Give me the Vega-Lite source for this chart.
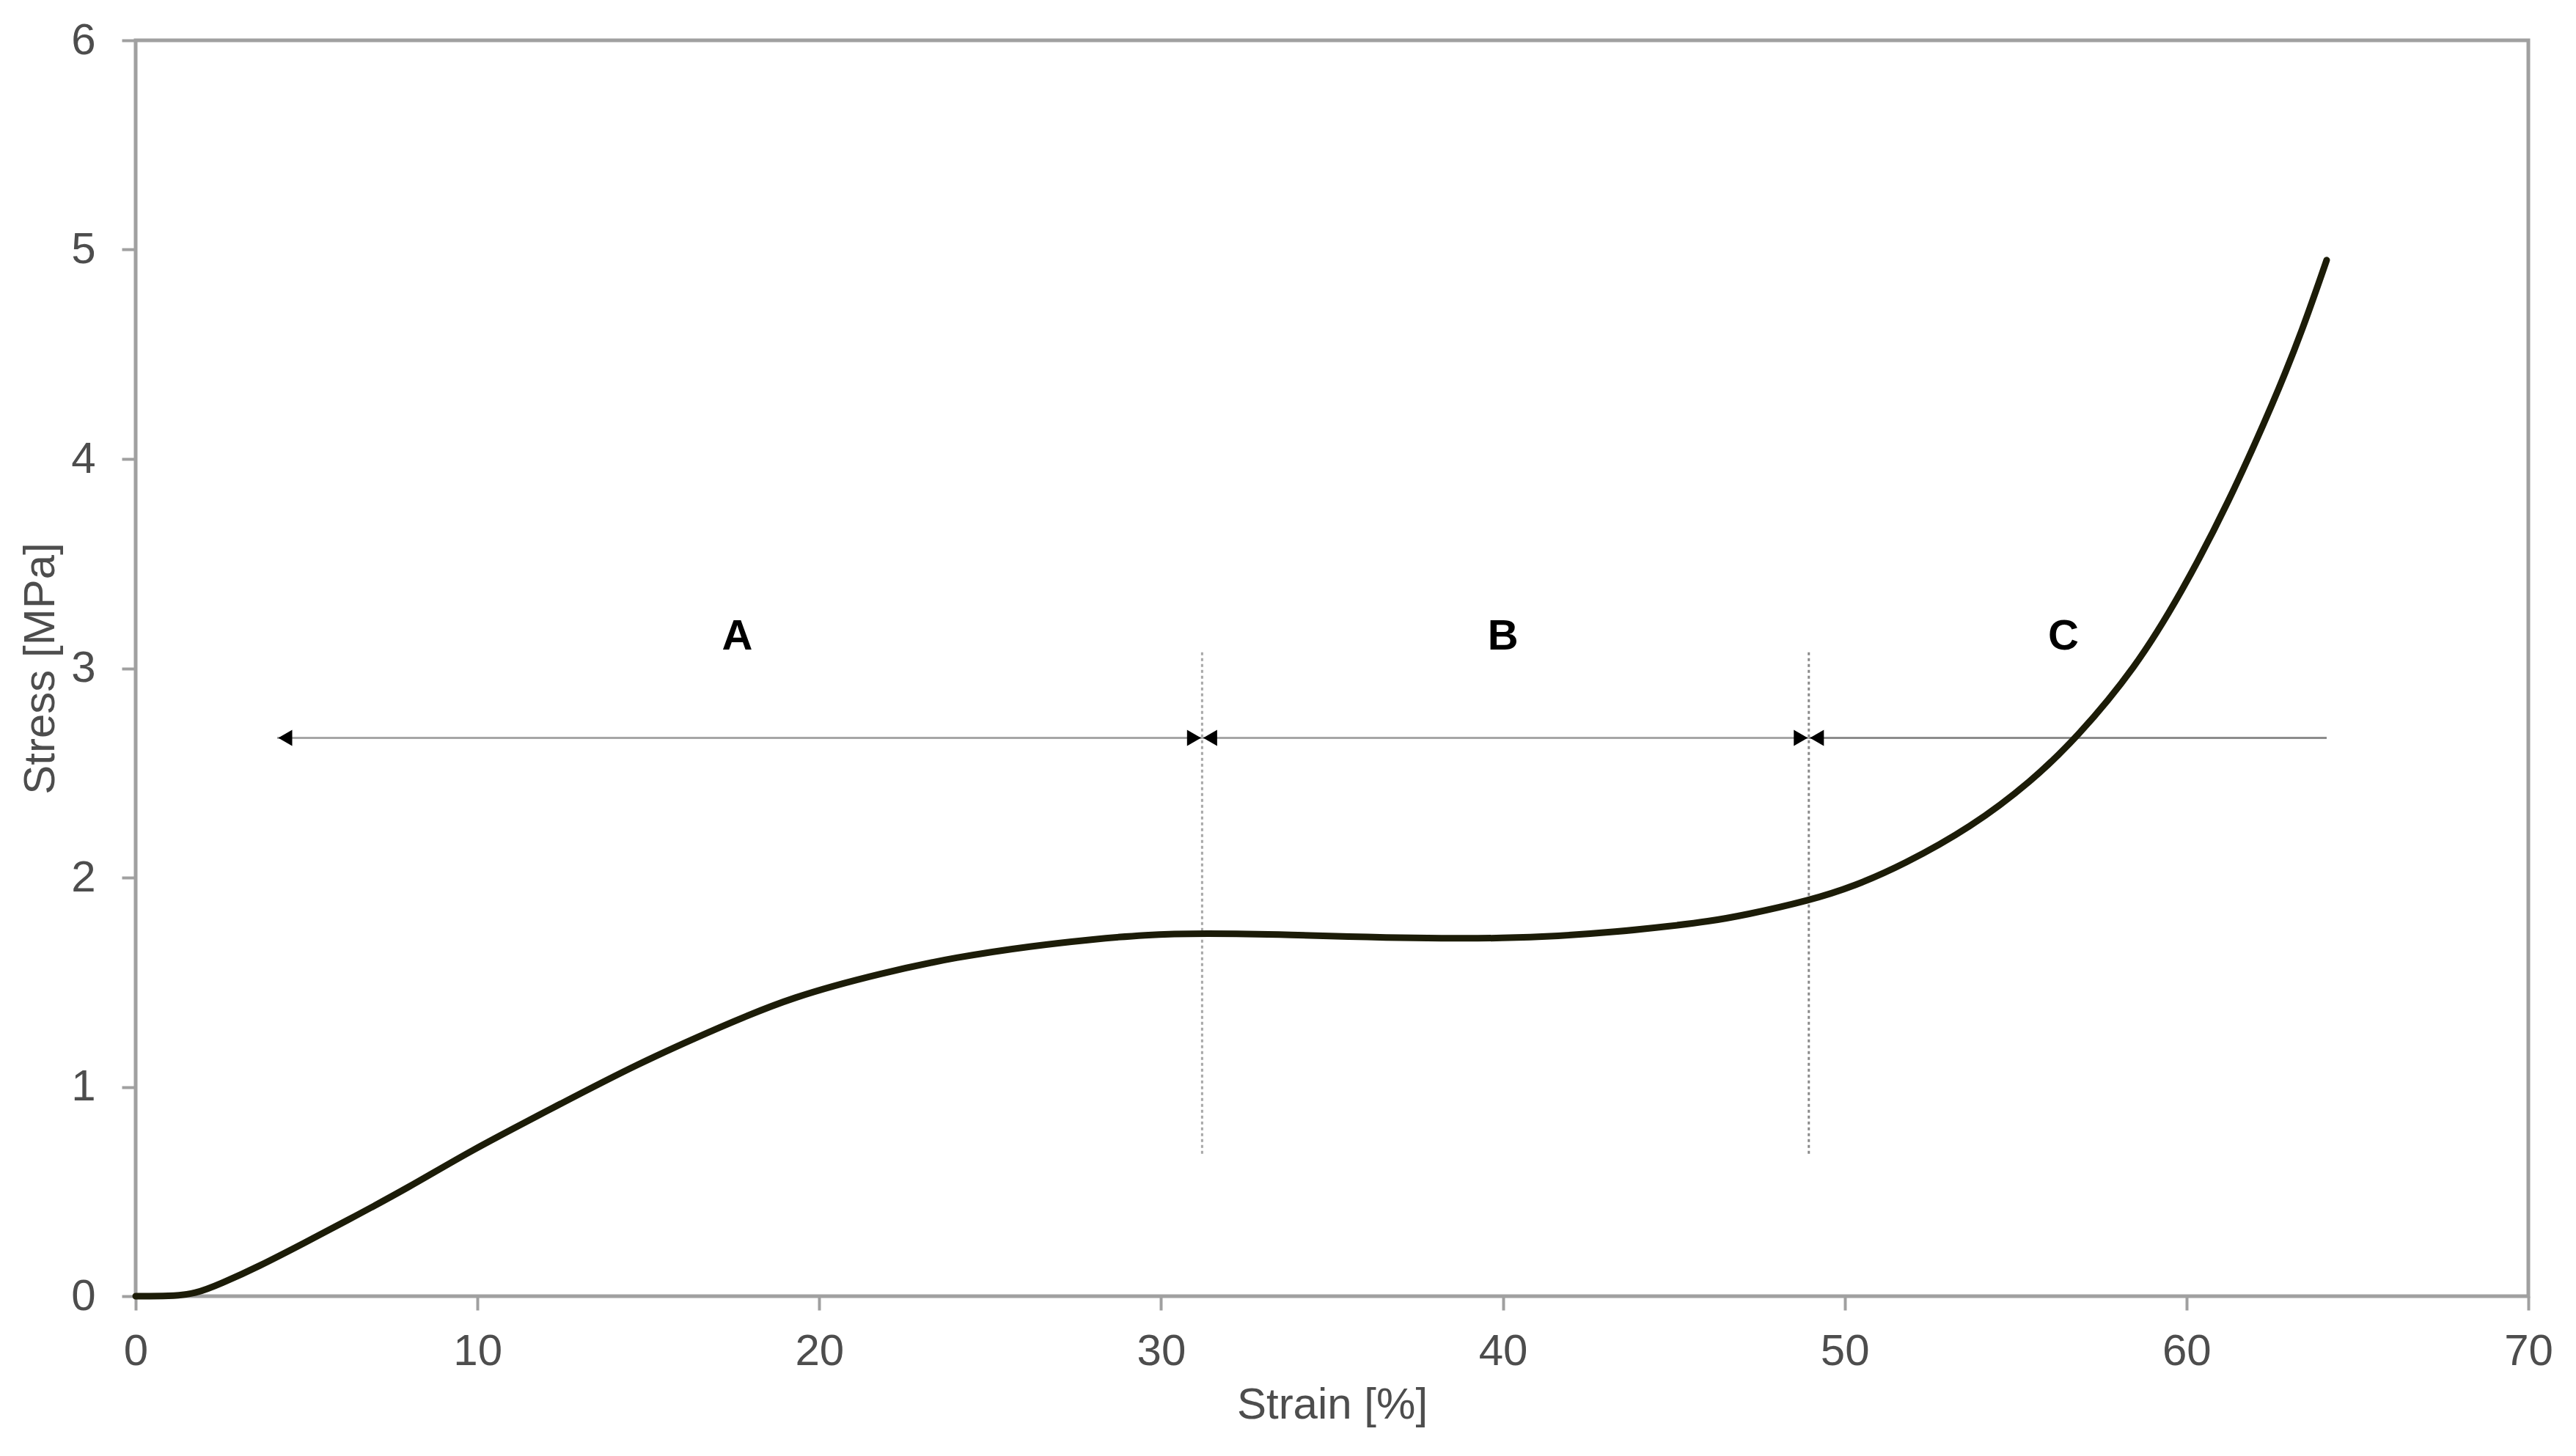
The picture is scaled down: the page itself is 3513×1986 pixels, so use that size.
{
  "$schema": "https://vega.github.io/schema/vega-lite/v6.json",
  "width": 3263,
  "height": 1713,
  "autosize": {"type": "none"},
  "padding": {"left": 185, "top": 55, "right": 65, "bottom": 218},
  "background": "white",
  "config": {
    "view": {"stroke": "#a0a0a0", "strokeWidth": 5},
    "font": "Liberation Sans",
    "axis": {
      "domain": false,
      "grid": false,
      "labelFlush": false,
      "labelOverlap": false,
      "tickColor": "#a0a0a0",
      "tickWidth": 4,
      "tickSize": 19,
      "labelFont": "Liberation Sans",
      "labelFontSize": 60,
      "labelColor": "#4d4d4d",
      "titleFont": "Liberation Sans",
      "titleFontSize": 60,
      "titleFontWeight": "normal",
      "titleColor": "#4d4d4d"
    }
  },
  "datasets": {
    "curve": [
      {"strain": 0, "stress": 0},
      {"strain": 1.0, "stress": 0},
      {"strain": 1.74, "stress": 0.01},
      {"strain": 2.5, "stress": 0.06},
      {"strain": 3.58, "stress": 0.14},
      {"strain": 5, "stress": 0.26},
      {"strain": 6.05, "stress": 0.35},
      {"strain": 8, "stress": 0.52},
      {"strain": 9.74, "stress": 0.69},
      {"strain": 12.21, "stress": 0.9},
      {"strain": 14.68, "stress": 1.11},
      {"strain": 17.15, "stress": 1.29},
      {"strain": 19.2, "stress": 1.43},
      {"strain": 21.87, "stress": 1.546},
      {"strain": 24, "stress": 1.62},
      {"strain": 26.24, "stress": 1.674},
      {"strain": 28, "stress": 1.705},
      {"strain": 29.5, "stress": 1.727},
      {"strain": 31.2, "stress": 1.734},
      {"strain": 33.9, "stress": 1.727},
      {"strain": 36, "stress": 1.715},
      {"strain": 38.3, "stress": 1.709},
      {"strain": 40, "stress": 1.71},
      {"strain": 41.6, "stress": 1.72},
      {"strain": 43.3, "stress": 1.74},
      {"strain": 44.9, "stress": 1.768},
      {"strain": 46, "stress": 1.79},
      {"strain": 47.06, "stress": 1.82},
      {"strain": 48.97, "stress": 1.89},
      {"strain": 50.3, "stress": 1.96},
      {"strain": 51.7, "stress": 2.06},
      {"strain": 53.7, "stress": 2.24},
      {"strain": 55.47, "stress": 2.46},
      {"strain": 56.8, "stress": 2.67},
      {"strain": 58.5, "stress": 3.0},
      {"strain": 59.85, "stress": 3.36},
      {"strain": 61.2, "stress": 3.78},
      {"strain": 62.6, "stress": 4.29},
      {"strain": 63.4, "stress": 4.62},
      {"strain": 64.1, "stress": 4.95}
    ],
    "spans": [
      {"seg": "A", "x1": 4.14, "x2": 31.2, "y": 2.667},
      {"seg": "B", "x1": 31.2, "x2": 48.95, "y": 2.667},
      {"seg": "C", "x1": 48.95, "x2": 64.1, "y": 2.667}
    ],
    "heads": [
      {"x": 4.14, "y": 2.667, "dir": "left"},
      {"x": 31.2, "y": 2.667, "dir": "right"},
      {"x": 31.2, "y": 2.667, "dir": "left"},
      {"x": 48.95, "y": 2.667, "dir": "right"},
      {"x": 48.95, "y": 2.667, "dir": "left"}
    ],
    "dividers": [
      {"x": 31.2, "y1": 0.68, "y2": 3.08, "name": "AB"},
      {"x": 48.95, "y1": 0.68, "y2": 3.08, "name": "BC"}
    ],
    "labels": [
      {"x": 17.6, "y": 3.15, "text": "A"},
      {"x": 40.0, "y": 3.15, "text": "B"},
      {"x": 56.4, "y": 3.15, "text": "C"}
    ]
  },
  "layer": [
    {
      "data": {"name": "dividers"},
      "mark": {"type": "rule", "strokeWidth": 3, "strokeDash": [4, 4]},
      "encoding": {
        "x": {"field": "x", "type": "quantitative", "scale": {"domain": [0, 70], "nice": false}},
        "y": {"field": "y1", "type": "quantitative", "scale": {"domain": [0, 6], "nice": false}},
        "y2": {"field": "y2"},
        "color": {"field": "name", "type": "nominal", "scale": {"domain": ["AB", "BC"], "range": ["#a8a8a8", "#8a8a8a"]}, "legend": null}
      }
    },
    {
      "data": {"name": "spans"},
      "mark": {"type": "rule", "strokeWidth": 3},
      "encoding": {
        "x": {"field": "x1", "type": "quantitative"},
        "x2": {"field": "x2"},
        "y": {"field": "y", "type": "quantitative"},
        "stroke": {"field": "seg", "type": "nominal", "scale": {"domain": ["A", "B", "C"], "range": ["#a6a6a6", "#a6a6a6", "#8c8c8c"]}, "legend": null}
      }
    },
    {
      "data": {"name": "heads"},
      "transform": [{"filter": "datum.dir === 'right'"}],
      "mark": {"type": "point", "shape": "triangle-right", "filled": true, "color": "black", "size": 484, "opacity": 1, "xOffset": -11},
      "encoding": {
        "x": {"field": "x", "type": "quantitative"},
        "y": {"field": "y", "type": "quantitative"}
      }
    },
    {
      "data": {"name": "heads"},
      "transform": [{"filter": "datum.dir === 'left'"}],
      "mark": {"type": "point", "shape": "triangle-left", "filled": true, "color": "black", "size": 484, "opacity": 1, "xOffset": 11},
      "encoding": {
        "x": {"field": "x", "type": "quantitative"},
        "y": {"field": "y", "type": "quantitative"}
      }
    },
    {
      "data": {"name": "curve"},
      "mark": {"type": "line", "color": "#1c1c08", "strokeWidth": 9, "interpolate": "basis", "strokeCap": "round"},
      "encoding": {
        "x": {
          "field": "strain", "type": "quantitative",
          "scale": {"domain": [0, 70], "nice": false},
          "axis": {"title": "Strain [%]", "values": [0, 10, 20, 30, 40, 50, 60, 70], "format": "d", "labelPadding": 27, "titlePadding": 14}
        },
        "y": {
          "field": "stress", "type": "quantitative",
          "scale": {"domain": [0, 6], "nice": false},
          "axis": {"title": "Stress [MPa]", "values": [0, 1, 2, 3, 4, 5, 6], "format": "d", "labelPadding": 36, "titlePadding": 10}
        }
      }
    },
    {
      "data": {"name": "labels"},
      "mark": {"type": "text", "font": "Liberation Sans", "fontWeight": "bold", "fontSize": 58, "color": "black", "baseline": "middle", "align": "center"},
      "encoding": {
        "x": {"field": "x", "type": "quantitative"},
        "y": {"field": "y", "type": "quantitative"},
        "text": {"field": "text"}
      }
    }
  ]
}
